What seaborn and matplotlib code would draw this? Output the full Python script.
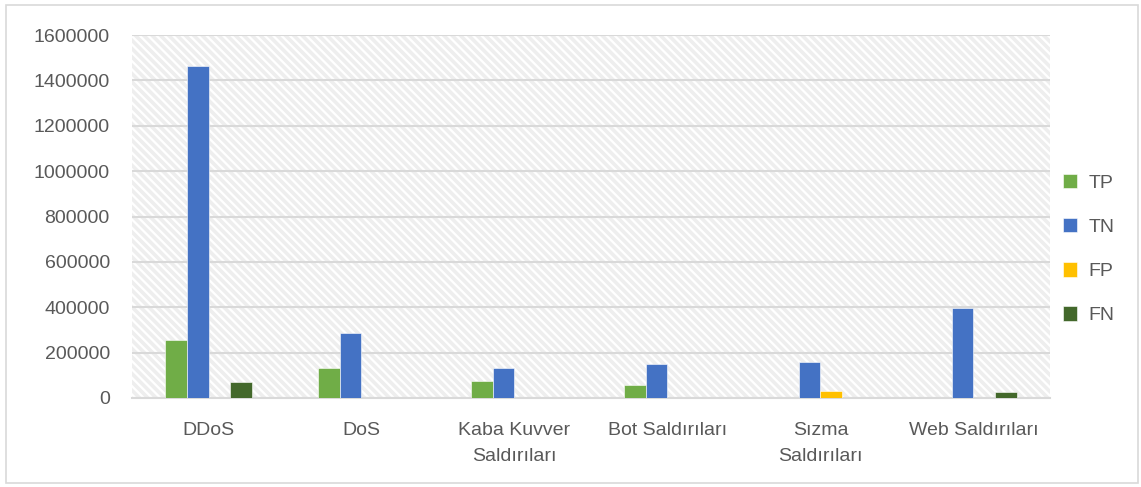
import matplotlib
matplotlib.use("Agg")
import matplotlib.pyplot as plt
from matplotlib.patches import Rectangle
import seaborn as sns
import pandas as pd

categories = ["DDoS", "DoS", "Kaba Kuvver\nSaldırıları", "Bot Saldırıları",
              "Sızma\nSaldırıları", "Web Saldırıları"]
series = ["TP", "TN", "FP", "FN"]
tp = [255000, 132000, 77000, 57000, 0, 0]
tn = [1463000, 286000, 133000, 151000, 157000, 396000]
fp = [0, 0, 0, 0, 32000, 0]
fn = [70000, 0, 0, 0, 0, 25000]
colors = ["#70AD47", "#4472C4", "#FFC000", "#43682B"]

rows = []
for name, vals in zip(series, [tp, tn, fp, fn]):
    for cat, v in zip(categories, vals):
        rows.append({"Kategori": cat, "Seri": name, "Değer": v})
df = pd.DataFrame(rows)

sns.set_theme(style="white")
plt.rcParams["font.family"] = ["Liberation Sans", "DejaVu Sans"]
plt.rcParams["hatch.linewidth"] = 2.6
plt.rcParams["hatch.color"] = "#EEEEEE"

fig = plt.figure(figsize=(11.41, 4.87), dpi=100)
ax = fig.add_axes([0.1157, 0.1828, 0.8045, 0.7452])

# hatched plot-area background
ax.patch.set_facecolor("white")
bg = Rectangle((0, 0), 1, 1, transform=ax.transAxes, facecolor="white",
               edgecolor="#EEEEEE", linewidth=0, hatch="\\\\\\\\", zorder=0)
ax.add_patch(bg)

sns.barplot(data=df, x="Kategori", y="Değer", hue="Seri", hue_order=series,
            palette=colors, width=0.57, ax=ax, edgecolor="#FFFFFF",
            linewidth=0.4, saturation=1, zorder=3)

ax.set_ylim(0, 1600000)
ax.set_yticks(range(0, 1600001, 200000))
ax.set_yticklabels([str(v) for v in range(0, 1600001, 200000)])
ax.set_xlim(-0.5, len(categories) - 0.5)
ax.yaxis.grid(True, color="#D9D9D9", linewidth=1.5, zorder=1)
ax.set_axisbelow(True)
for s in ["left", "right", "top"]:
    ax.spines[s].set_visible(False)
ax.spines["bottom"].set_color("#D9D9D9")
ax.spines["bottom"].set_linewidth(1.5)
ax.set_xlabel("")
ax.set_ylabel("")
ax.tick_params(axis="both", length=0, labelsize=14, labelcolor="#595959")
ax.tick_params(axis="y", pad=16)
ax.tick_params(axis="x", pad=17)
for lab in ax.get_xticklabels():
    lab.set_linespacing(1.75)
    lab.set_verticalalignment("top")

leg = ax.legend(loc="center left", bbox_to_anchor=(0.995, 0.41), frameon=False,
                fontsize=14, labelspacing=1.35, handlelength=0.75,
                handleheight=0.75, handletextpad=0.55)
for t in leg.get_texts():
    t.set_color("#595959")

fig.patches.append(Rectangle((0.005, 0.008), 0.992, 0.982, transform=fig.transFigure,
                             fill=False, edgecolor="#D9D9D9", linewidth=1.2))

fig.savefig("out.png", dpi=100, facecolor="white")
